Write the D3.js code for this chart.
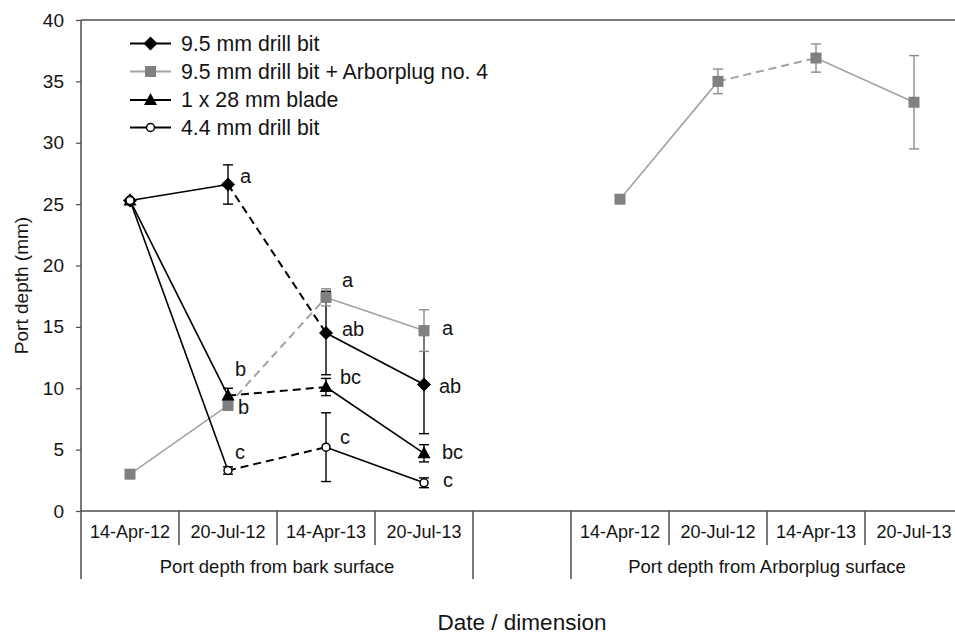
<!DOCTYPE html>
<html>
<head>
<meta charset="utf-8">
<script src="https://cdn.jsdelivr.net/npm/d3@7"></script>
<style>
  html, body { margin: 0; padding: 0; background: #fff; }
  svg { display: block; font-family: "Liberation Sans", Arial, Helvetica, sans-serif; }
</style>
</head>
<body>
<svg id="chart" width="955" height="634"></svg>
<script>
// ---------------- DATA ----------------
const categories = ["14-Apr-12", "20-Jul-12", "14-Apr-13", "20-Jul-13", "",
                    "14-Apr-12", "20-Jul-12", "14-Apr-13", "20-Jul-13"];
const groupLabels = ["Port depth from bark surface", "", "Port depth from Arborplug surface"];
const groupSpans = [[0, 3], [4, 4], [5, 8]];
const yTicks = [0, 5, 10, 15, 20, 25, 30, 35, 40];

const seriesNames = ["9.5 mm drill bit", "9.5 mm drill bit + Arborplug no. 4", "1 x 28 mm blade", "4.4 mm drill bit"];

const drill95      = [25.3, 26.6, 14.5, 10.3, null, null, null, null, null];
const drill95Err   = [null, 1.6, 3.4, 4.0, null, null, null, null, null];
const drill95Let   = ["", "a", "ab", "ab", "", "", "", "", ""];

const arborplug    = [3.0, 8.6, 17.4, 14.7, null, 25.4, 35.0, 36.9, 33.3];
const arborplugErr = [null, 0.4, 0.7, 1.7, null, null, 1.0, 1.15, 3.8];
const arborplugLet = ["", "b", "a", "a", "", "", "", "", ""];

const blade        = [25.3, 9.4, 10.1, 4.7, null, null, null, null, null];
const bladeErr     = [null, 0.6, 0.7, 0.7, null, null, null, null, null];
const bladeLet     = ["", "b", "bc", "bc", "", "", "", "", ""];

const drill44      = [25.3, 3.3, 5.2, 2.3, null, null, null, null, null];
const drill44Err   = [null, 0.3, 2.8, 0.4, null, null, null, null, null];
const drill44Let   = ["", "c", "c", "c", "", "", "", "", ""];

// ---------------- LAYOUT ----------------
const svg = d3.select("#chart");
const mLeft = 81, mTop = 20, mBottom = 511, mRight = 963;
const x = d3.scaleBand().domain(d3.range(categories.length)).range([mLeft, mRight]).paddingInner(0).paddingOuter(0);
const y = d3.scaleLinear().domain([0, 40]).range([mBottom, mTop]);
const cx = i => x(i) + x.bandwidth() / 2;

const textColor = "#141414";
const axisColor = "#4d4d4d";

// letter offsets (layout only)
const letterOffsets = [
  [null, [12, -1], [16, 3], [15, 8]],
  [null, [10, 9], [16, -10], [18, 4]],
  [null, [7, -20], [14, -3], [18, 6]],
  [null, [7, -11], [14, -3], [19, 4]]
];

const series = [
  { name: seriesNames[0], values: drill95, err: drill95Err, letters: drill95Let, marker: "diamond", color: "#000", lineColor: "#000", errColor: "#000" },
  { name: seriesNames[1], values: arborplug, err: arborplugErr, letters: arborplugLet, marker: "square", color: "#808080", lineColor: "#a3a3a3", errColor: "#8c8c8c" },
  { name: seriesNames[2], values: blade, err: bladeErr, letters: bladeLet, marker: "triangle", color: "#000", lineColor: "#000", errColor: "#000" },
  { name: seriesNames[3], values: drill44, err: drill44Err, letters: drill44Let, marker: "circle", color: "#000", lineColor: "#000", errColor: "#000" }
];

// ---------------- AXES / FRAME ----------------
svg.append("line").attr("x1", mLeft).attr("x2", mRight).attr("y1", mTop).attr("y2", mTop)
  .attr("stroke", axisColor).attr("stroke-width", 1.5);

const yAxis = d3.axisLeft(y).tickValues(yTicks).tickSize(5).tickPadding(12);
const yG = svg.append("g").attr("transform", `translate(${mLeft},0)`).call(yAxis);
yG.select(".domain").remove();
yG.selectAll(".tick line").attr("stroke", axisColor).attr("stroke-width", 1.2);
yG.selectAll(".tick text").attr("font-size", 19).attr("fill", textColor)
  .attr("font-family", "'Liberation Sans', Arial, sans-serif");
svg.append("line").attr("x1", mLeft).attr("x2", mLeft).attr("y1", mTop).attr("y2", 579)
  .attr("stroke", axisColor).attr("stroke-width", 1.5);

svg.append("line").attr("x1", mLeft).attr("x2", mRight).attr("y1", mBottom).attr("y2", mBottom)
  .attr("stroke", axisColor).attr("stroke-width", 1.5);

const xAxis = d3.axisBottom(x).tickFormat(i => categories[i]).tickSize(0).tickPadding(14);
const xG = svg.append("g").attr("transform", `translate(0,${mBottom})`).call(xAxis);
xG.select(".domain").remove();
xG.selectAll(".tick text").attr("font-size", 18).attr("fill", textColor)
  .attr("font-family", "'Liberation Sans', Arial, sans-serif");

d3.range(1, categories.length).forEach(i => {
  const isGroupEdge = groupSpans.some(s => s[0] === i);
  svg.append("line").attr("x1", x(i)).attr("x2", x(i)).attr("y1", mBottom)
    .attr("y2", isGroupEdge ? 579 : 545)
    .attr("stroke", axisColor).attr("stroke-width", 1.5);
});

groupSpans.forEach((s, gi) => {
  if (!groupLabels[gi]) return;
  const mid = (x(s[0]) + x(s[1]) + x.bandwidth()) / 2;
  svg.append("text").attr("x", mid).attr("y", 573).attr("text-anchor", "middle")
    .attr("font-size", 18.5).attr("fill", textColor).text(groupLabels[gi]);
});

svg.append("text").attr("x", (mLeft + mRight) / 2).attr("y", 630).attr("text-anchor", "middle")
  .attr("font-size", 22.5).attr("fill", textColor).text("Date / dimension");
svg.append("text").attr("transform", `translate(28,${(mTop + mBottom) / 2 + 20}) rotate(-90)`)
  .attr("text-anchor", "middle").attr("font-size", 19).attr("fill", textColor).text("Port depth (mm)");

// ---------------- MARKERS ----------------
function drawMarker(g, type, px, py, s) {
  if (type === "diamond") {
    g.append("path").attr("d", `M${px},${py - 7}L${px + 7},${py}L${px},${py + 7}L${px - 7},${py}Z`)
      .attr("fill", "#000");
  } else if (type === "square") {
    g.append("rect").attr("x", px - 5.5).attr("y", py - 5.5).attr("width", 11).attr("height", 11)
      .attr("fill", s.color);
  } else if (type === "triangle") {
    g.append("path").attr("d", `M${px},${py - 7}L${px + 6.5},${py + 5}L${px - 6.5},${py + 5}Z`)
      .attr("fill", "#000");
  } else if (type === "circle") {
    g.append("circle").attr("cx", px).attr("cy", py).attr("r", 4)
      .attr("fill", "#fff").attr("stroke", "#000").attr("stroke-width", 1.5);
  }
}

// ---------------- SERIES ----------------
const isDashed = (i) => categories[i] === "20-Jul-12" && categories[i + 1] === "14-Apr-13";

series.forEach((s) => {
  const g = svg.append("g");
  for (let i = 0; i < s.values.length - 1; i++) {
    if (s.values[i] == null || s.values[i + 1] == null) continue;
    const dashed = isDashed(i);
    g.append("line")
      .attr("x1", cx(i)).attr("y1", y(s.values[i]))
      .attr("x2", cx(i + 1)).attr("y2", y(s.values[i + 1]))
      .attr("stroke", s.lineColor)
      .attr("stroke-width", dashed ? 2 : 1.6)
      .attr("stroke-dasharray", dashed ? "8,5" : null);
  }
  s.values.forEach((v, i) => {
    const e = s.err[i];
    if (v == null || e == null) return;
    const px = cx(i);
    g.append("line").attr("x1", px).attr("x2", px).attr("y1", y(v + e)).attr("y2", y(v - e))
      .attr("stroke", s.errColor).attr("stroke-width", 1.4);
    [v + e, v - e].forEach(vv => {
      g.append("line").attr("x1", px - 5).attr("x2", px + 5).attr("y1", y(vv)).attr("y2", y(vv))
        .attr("stroke", s.errColor).attr("stroke-width", 1.4);
    });
  });
});

series.forEach((s) => {
  const g = svg.append("g");
  s.values.forEach((v, i) => {
    if (v == null) return;
    drawMarker(g, s.marker, cx(i), y(v), s);
  });
});

series.forEach((s, si) => {
  s.letters.forEach((t, i) => {
    if (!t) return;
    const off = letterOffsets[si][i] || [14, 4];
    svg.append("text").attr("x", cx(i) + off[0]).attr("y", y(s.values[i]) + off[1])
      .attr("font-size", 20).attr("fill", textColor).text(t);
  });
});

// ---------------- LEGEND ----------------
const legendRows = [43.5, 71.5, 100, 127.5];
series.forEach((s, si) => {
  const g = svg.append("g");
  const ly = legendRows[si];
  g.append("line").attr("x1", 130).attr("x2", 171).attr("y1", ly).attr("y2", ly)
    .attr("stroke", s.lineColor).attr("stroke-width", 1.8);
  drawMarker(g, s.marker, 150.5, ly, s);
  g.append("text").attr("x", 181).attr("y", ly + 7).attr("font-size", 21.3)
    .attr("fill", textColor).text(s.name);
});
</script>
</body>
</html>
